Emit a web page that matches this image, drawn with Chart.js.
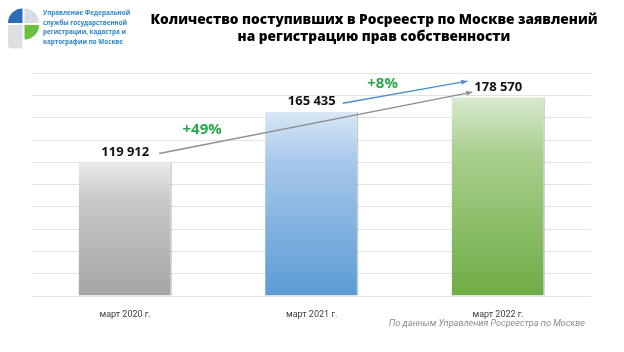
<!DOCTYPE html>
<html lang="ru">
<head>
<meta charset="utf-8">
<script src="https://cdn.jsdelivr.net/npm/chart.js@4/dist/chart.umd.min.js"></script>
<style>
  html, body { margin: 0; padding: 0; background: #fff; }
  #wrap { position: relative; width: 624px; height: 352px; overflow: hidden; }
  #c { position: absolute; left: 0; top: 0; }
  .title { position: absolute; left: 124px; width: 500px; top: 9.5px; text-align: center;
           font-family: "Open Sans", sans-serif; font-weight: 800; font-size: 13.7px; line-height: 17px; color: #000; }
  .logotext { position: absolute; left: 43px; top: 8px; font-family: "Open Sans", sans-serif; font-weight: 700;
              font-size: 6.3px; line-height: 9.7px; color: #2f86c8; white-space: nowrap; }
  .source { position: absolute; right: 39px; top: 317.5px; font-family: Roboto, sans-serif; font-style: italic;
            font-size: 9.1px; color: #8c8c8c; white-space: nowrap; }
  svg.logo { position: absolute; left: 0; top: 0; }
</style>
</head>
<body>
<div id="wrap">
  <canvas id="c" width="624" height="352"></canvas>
  <svg class="logo" width="44" height="56" viewBox="0 0 44 56">
    <path d="M22.5,23 L8,23 A14.5,14.5 0 0 1 22.5,8.5 Z" fill="#2a6db5"/>
    <path d="M24.5,23 L24.5,8.5 A14.5,14.5 0 0 1 39,23 Z" fill="#d9dce0"/>
    <path d="M24.5,25 L39,25 A14.5,14.5 0 0 1 24.5,39.5 Z" fill="#6dbf3e"/>
    <path d="M8,25 L22.5,25 L22.5,48.5 L12,48.5 A4,4 0 0 1 8,44.5 Z" fill="#dcdfe3"/>
  </svg>
  <div class="logotext">Управление Федеральной<br>службы государственной<br>регистрации, кадастра и<br>картографии по Москве</div>
  <div class="title">Количество поступивших в Росреестр по Москве заявлений<br>на регистрацию прав собственности</div>
  <div class="source">По данным Управления Росреестра по Москве</div>
</div>
<script>
// ---- data ----
const categories = ['март 2020 г.', 'март 2021 г.', 'март 2022 г.'];
const values = [119912, 165435, 178570];
const growthLabels = ['+49%', '+8%'];
const yMin = 0;
const yMax = 200000;
const yStep = 20000;

// ---- styles ----
const gradStops = [
  ['#ebebeb', '#c9c9c9', '#a5a5a5'],
  ['#d9e7f5', '#a6c7ea', '#5b9bd5'],
  ['#d9e9cf', '#a9d08e', '#6fac45']
];

function fmt(v) {
  return String(v).replace(/\B(?=(\d{3})+(?!\d))/g, ' ');
}

function barGradient(ctx) {
  const chart = ctx.chart;
  const area = chart.chartArea;
  if (!area) return gradStops[ctx.dataIndex][2];
  const y = chart.scales.y;
  const top = y.getPixelForValue(values[ctx.dataIndex]);
  const bottom = y.getPixelForValue(0);
  const g = chart.ctx.createLinearGradient(0, top, 0, bottom);
  const s = gradStops[ctx.dataIndex];
  g.addColorStop(0, s[0]);
  g.addColorStop(0.28, s[1]);
  g.addColorStop(1, s[2]);
  return g;
}

function arrow(c, x1, y1, x2, y2, color) {
  c.save();
  c.strokeStyle = color;
  c.fillStyle = color;
  c.lineWidth = 1.4;
  c.beginPath();
  c.moveTo(x1, y1);
  c.lineTo(x2, y2);
  c.stroke();
  const a = Math.atan2(y2 - y1, x2 - x1);
  const L = 6, W = 2.6;
  c.beginPath();
  c.moveTo(x2, y2);
  c.lineTo(x2 - L * Math.cos(a) + W * Math.sin(a), y2 - L * Math.sin(a) - W * Math.cos(a));
  c.lineTo(x2 - L * Math.cos(a) - W * Math.sin(a), y2 - L * Math.sin(a) + W * Math.cos(a));
  c.closePath();
  c.fill();
  c.restore();
}

const annotate = {
  id: 'annotate',
  afterDatasetsDraw(chart) {
    const c = chart.ctx;
    const meta = chart.getDatasetMeta(0);
    c.save();
    c.font = 'bold 13px "Open Sans", sans-serif';
    const boxes = meta.data.map((bar, i) => {
      const text = fmt(values[i]);
      const w = c.measureText(text).width;
      const cx = bar.x, cy = bar.y - 10;
      return { text, cx, cy, left: cx - w / 2, right: cx + w / 2 };
    });
    c.fillStyle = '#111';
    c.textAlign = 'center';
    c.textBaseline = 'middle';
    boxes.forEach(b => c.fillText(b.text, b.cx, b.cy));

    // growth arrows between the value labels
    const g1 = [boxes[0].right + 10, boxes[0].cy + 1, boxes[2].left - 2, boxes[2].cy + 5];
    const g2 = [boxes[1].right + 7, boxes[1].cy + 1.5, boxes[2].left - 7, boxes[2].cy - 6];
    arrow(c, g1[0], g1[1], g1[2], g1[3], '#8f8f8f');
    arrow(c, g2[0], g2[1], g2[2], g2[3], '#4d8fcc');

    c.font = 'bold 15px "Open Sans", sans-serif';
    c.fillStyle = '#27a84a';
    const t1 = 0.137, t2 = 0.32;
    const x1 = g1[0] + t1 * (g1[2] - g1[0]), y1 = g1[1] + t1 * (g1[3] - g1[1]);
    const x2 = g2[0] + t2 * (g2[2] - g2[0]), y2 = g2[1] + t2 * (g2[3] - g2[1]);
    c.fillText(growthLabels[0], x1, y1 - 15);
    c.fillText(growthLabels[1], x2, y2 - 12);
    c.restore();
  }
};

new Chart(document.getElementById('c'), {
  type: 'bar',
  data: {
    labels: categories,
    datasets: [{
      data: values,
      backgroundColor: barGradient,
      borderColor: 'rgba(0,0,0,0.22)',
      borderWidth: { top: 0, left: 0, bottom: 0, right: 1.5 },
      borderSkipped: false,
      categoryPercentage: 1,
      barPercentage: 0.5
    }]
  },
  options: {
    responsive: false,
    animation: false,
    devicePixelRatio: 1,
    layout: { padding: { left: 32, right: 32.5, top: 73.3, bottom: 0 } },
    plugins: { legend: { display: false }, tooltip: { enabled: false }, title: { display: false } },
    scales: {
      x: {
        grid: { display: false, drawTicks: false },
        border: { display: false },
        ticks: { color: '#404040', font: { family: 'Roboto', size: 9 }, padding: 13 },
        afterFit(scale) { scale.height = 56; }
      },
      y: {
        min: yMin, max: yMax,
        grid: { color: '#e3e3e3', lineWidth: 1, drawTicks: false },
        border: { display: false },
        ticks: { display: false, stepSize: yStep },
        afterFit(scale) { scale.width = 0; }
      }
    }
  },
  plugins: [annotate]
});
</script>
</body>
</html>
